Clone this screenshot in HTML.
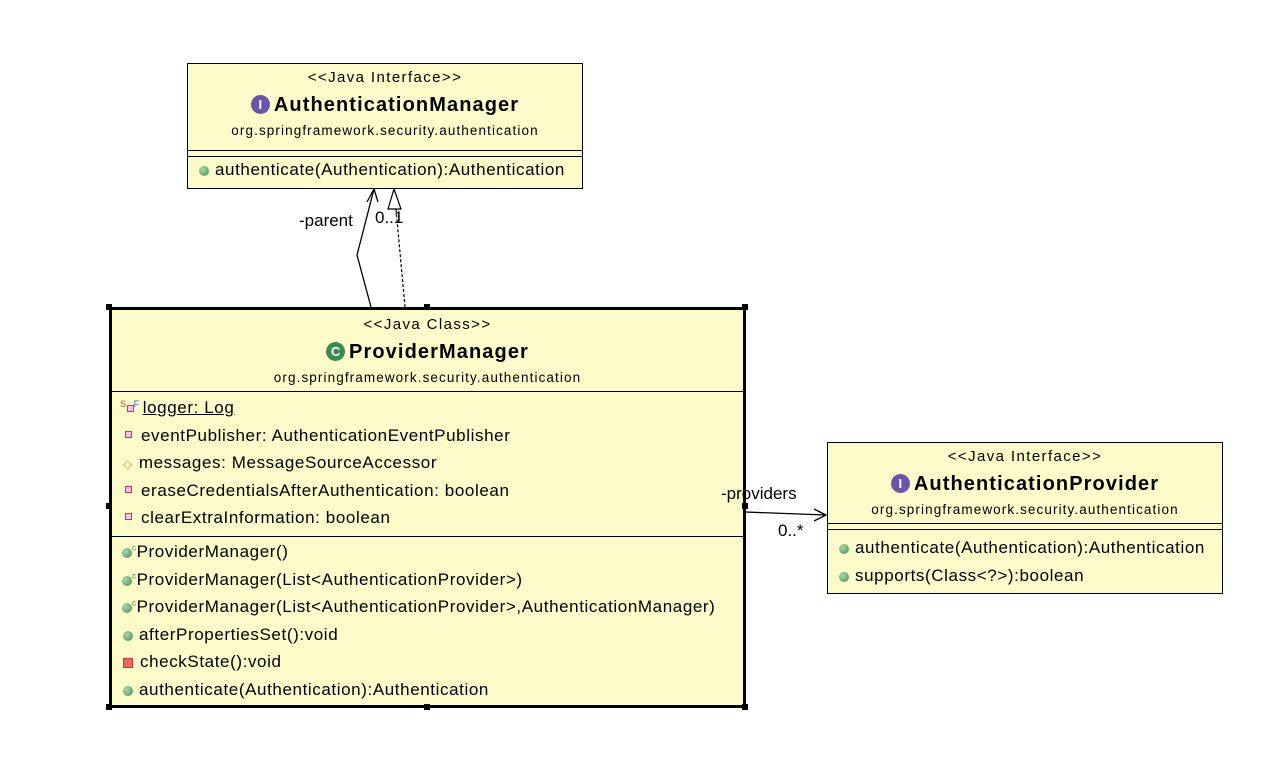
<!DOCTYPE html>
<html><head><style>
body{margin:0;width:1280px;height:772px;background:#fff;position:relative;font-family:"Liberation Sans",sans-serif;overflow:hidden}
.b{position:absolute;background:#fdfbc9;border:1px solid #000;box-sizing:border-box}
.t{position:absolute;white-space:nowrap;font-size:17px;letter-spacing:0.6px;color:#000}
.c{left:0;right:0;text-align:center}
.s{font-size:15px;letter-spacing:1.4px}
.n{font-size:20px;font-weight:bold;letter-spacing:1.1px}
.p{font-size:13.5px;letter-spacing:1.1px}
.h{position:absolute;left:0;right:0;border-top:1px solid #000}
.g{display:inline-block;width:10px;height:10px;border-radius:50%;background:radial-gradient(circle at 35% 35%,#a9d8a9,#3f8f4f);vertical-align:-1px;margin-right:6px}
.r{display:inline-block;width:5px;height:5px;border:1px solid #d2324a;background:#fbe;margin:0 9px 2px 2px;vertical-align:1px}
.ic{display:inline-block;width:19px;height:19px;border-radius:50%;color:#fff;font-size:13px;line-height:19px;text-align:center;margin-right:4px;vertical-align:2px;font-weight:bold;letter-spacing:0}
.k{position:absolute;width:6px;height:6px;background:#000}
</style></head><body>
<svg width="1280" height="772" style="position:absolute;left:0;top:0">
<polyline points="371,307 357,255 374,189" fill="none" stroke="#000" stroke-width="1.3"/>
<polyline points="367,202 374,189 378,202" fill="none" stroke="#000" stroke-width="1.3"/>
<line x1="405" y1="307" x2="396" y2="209" stroke="#000" stroke-dasharray="3,2" stroke-width="1.2"/>
<polygon points="394,189 388,209 401,209" fill="#fff" stroke="#000" stroke-width="1.2"/>
<line x1="745" y1="512" x2="826" y2="515" stroke="#000" stroke-width="1.3"/>
<polyline points="814,509 826,515 814,521" fill="none" stroke="#000" stroke-width="1.3"/>
</svg>

<div class="b" style="left:187px;top:63px;width:396px;height:126px">
<div class="t c s" style="top:5px">&lt;&lt;Java Interface&gt;&gt;</div>
<div class="t c n" style="top:30px"><span class="ic" style="background:#6a55a8">I</span>AuthenticationManager</div>
<div class="t c p" style="top:59px">org.springframework.security.authentication</div>
<div class="h" style="top:86px"></div><div class="h" style="top:92px"></div>
<div class="t" style="left:11px;top:96px"><span class="g"></span>authenticate(Authentication):Authentication</div>
</div>

<div class="b" style="left:109px;top:307px;width:637px;height:401px;border-width:3px">
<div class="t c s" style="top:6px">&lt;&lt;Java Class&gt;&gt;</div>
<div class="t c n" style="top:31px"><span class="ic" style="background:#3c8c52">C</span>ProviderManager</div>
<div class="t c p" style="top:60px">org.springframework.security.authentication</div>
<div class="h" style="top:81px"></div>
<div class="t" style="left:8px;top:88px"><span style="font-size:9px;color:#d2324a;vertical-align:6px">S</span><span class="r" style="margin:0"></span><span style="font-size:9px;color:#3a6ac0;vertical-align:6px;margin-right:3px">F</span><u>logger: Log</u></div>
<div class="t" style="left:11px;top:116px"><span class="r"></span>eventPublisher: AuthenticationEventPublisher</div>
<div class="t" style="left:11px;top:143px"><span style="color:#c99a2e;font-size:12px;margin-right:6px">◇</span>messages: MessageSourceAccessor</div>
<div class="t" style="left:11px;top:171px"><span class="r"></span>eraseCredentialsAfterAuthentication: boolean</div>
<div class="t" style="left:11px;top:198px"><span class="r"></span>clearExtraInformation: boolean</div>
<div class="h" style="top:226px"></div>
<div class="t" style="left:10px;top:232px"><span class="g" style="margin-right:0"></span><sup style="font-size:8px;color:#3c8c52">c</sup>ProviderManager()</div>
<div class="t" style="left:10px;top:260px"><span class="g" style="margin-right:0"></span><sup style="font-size:8px;color:#3c8c52">c</sup>ProviderManager(List&lt;AuthenticationProvider&gt;)</div>
<div class="t" style="left:10px;top:287px"><span class="g" style="margin-right:0"></span><sup style="font-size:8px;color:#3c8c52">c</sup>ProviderManager(List&lt;AuthenticationProvider&gt;,AuthenticationManager)</div>
<div class="t" style="left:11px;top:315px"><span class="g"></span>afterPropertiesSet():void</div>
<div class="t" style="left:11px;top:342px"><span style="display:inline-block;width:8px;height:8px;background:#e66;border:1px solid #c33;margin-right:7px;vertical-align:-1px"></span>checkState():void</div>
<div class="t" style="left:11px;top:370px"><span class="g"></span>authenticate(Authentication):Authentication</div>
</div>
<div class="k" style="left:106px;top:304px"></div><div class="k" style="left:424px;top:304px"></div><div class="k" style="left:742px;top:304px"></div>
<div class="k" style="left:106px;top:503px"></div><div class="k" style="left:742px;top:503px"></div>
<div class="k" style="left:106px;top:704px"></div><div class="k" style="left:424px;top:704px"></div><div class="k" style="left:742px;top:704px"></div>

<div class="b" style="left:827px;top:442px;width:396px;height:152px">
<div class="t c s" style="top:5px">&lt;&lt;Java Interface&gt;&gt;</div>
<div class="t c n" style="top:30px"><span class="ic" style="background:#6a55a8">I</span>AuthenticationProvider</div>
<div class="t c p" style="top:59px">org.springframework.security.authentication</div>
<div class="h" style="top:80px"></div><div class="h" style="top:86px"></div>
<div class="t" style="left:11px;top:95px"><span class="g"></span>authenticate(Authentication):Authentication</div>
<div class="t" style="left:11px;top:123px"><span class="g"></span>supports(Class&lt;?&gt;):boolean</div>
</div>

<div class="t" style="left:299px;top:211px;letter-spacing:0">-parent</div>
<div class="t" style="left:375px;top:208px;letter-spacing:0">0..1</div>
<div class="t" style="left:721px;top:484px;letter-spacing:0">-providers</div>
<div class="t" style="left:778px;top:521px;letter-spacing:0">0..*</div>
</body></html>
